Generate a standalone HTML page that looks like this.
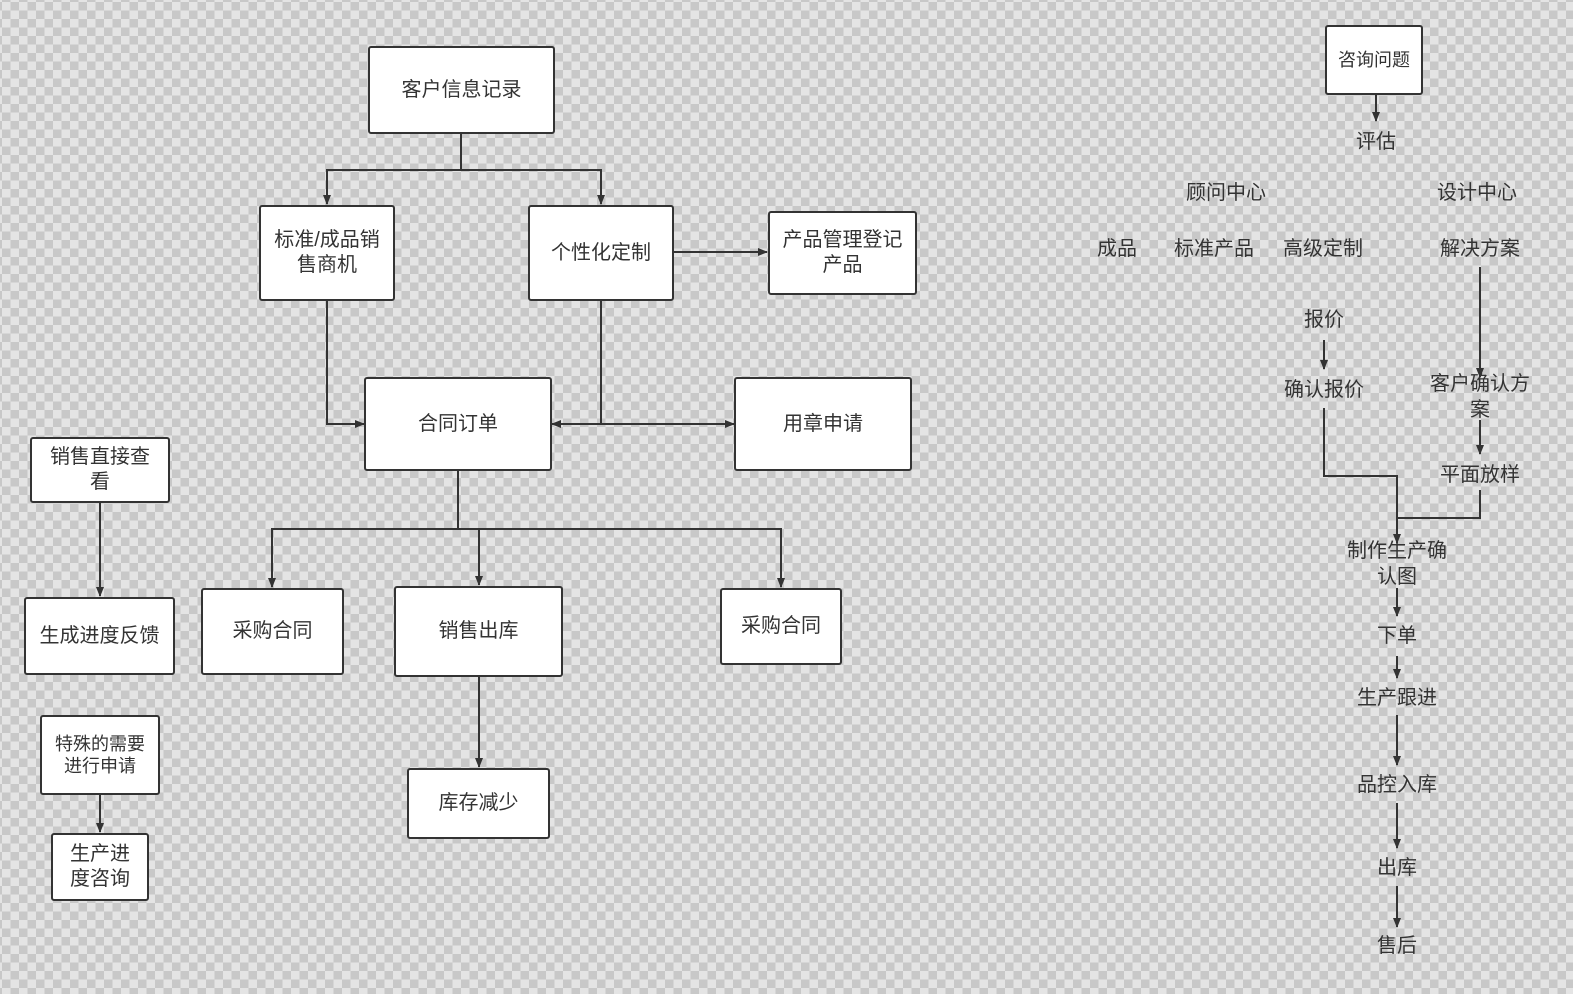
<!DOCTYPE html>
<html><head><meta charset="utf-8"><style>
body{margin:0;width:1573px;height:994px;overflow:hidden;position:relative;font-family:"Liberation Sans","Noto Sans CJK SC",sans-serif;color:#333;
background-color:#e4e4e4;background-image:linear-gradient(45deg,#c8c8c8 25%,transparent 25%,transparent 75%,#c8c8c8 75%),linear-gradient(45deg,#c8c8c8 25%,transparent 25%,transparent 75%,#c8c8c8 75%);background-size:17px 17px;background-position:2px 2px,10.5px 10.5px;}
.b{position:absolute;background:#fff;border:2px solid #333;border-radius:3px;box-sizing:border-box;display:flex;align-items:center;justify-content:center;text-align:center;font-size:20px;line-height:25px;}
.t{position:absolute;font-size:20px;line-height:26px;text-align:center;transform:translateX(-50%);white-space:nowrap;}
svg{position:absolute;left:0;top:0}
</style></head><body>
<svg width="1573" height="994"><defs><marker id="a" markerWidth="10" markerHeight="10" refX="9" refY="5" orient="auto" markerUnits="userSpaceOnUse"><path d="M0,1 L10,5 L0,9z" fill="#333"/></marker></defs>
<g stroke="#333" stroke-width="2" fill="none">
<path d="M461,133 V170 H327 V204" marker-end="url(#a)"/>
<path d="M461,170 H601 V204" marker-end="url(#a)"/>
<path d="M674,252 H767" marker-end="url(#a)"/>
<path d="M327,300 V424 H364" marker-end="url(#a)"/>
<path d="M601,300 V424 H552" marker-end="url(#a)"/>
<path d="M601,424 H734" marker-end="url(#a)"/>
<path d="M458,471 V529 H272 V587" marker-end="url(#a)"/>
<path d="M458,529 H479 V585" marker-end="url(#a)"/>
<path d="M479,529 H781 V587" marker-end="url(#a)"/>
<path d="M479,677 V767" marker-end="url(#a)"/>
<path d="M100,503 V596" marker-end="url(#a)"/>
<path d="M100,795 V832" marker-end="url(#a)"/>
<path d="M1376,94 V121" marker-end="url(#a)"/>
<path d="M1324,340 V369" marker-end="url(#a)"/>
<path d="M1480,267 V377" marker-end="url(#a)"/>
<path d="M1480,420 V454" marker-end="url(#a)"/>
<path d="M1324,408 V476 H1397 V543" marker-end="url(#a)"/>
<path d="M1480,490 V518 H1397"/>
<path d="M1397,588 V616" marker-end="url(#a)"/>
<path d="M1397,656 V678" marker-end="url(#a)"/>
<path d="M1397,715 V765" marker-end="url(#a)"/>
<path d="M1397,803 V848" marker-end="url(#a)"/>
<path d="M1397,886 V927" marker-end="url(#a)"/>
</g></svg>
<div class="b" style="left:368px;top:46px;width:187px;height:88px">客户信息记录</div>
<div class="b" style="left:259px;top:205px;width:136px;height:96px">标准/成品销<br>售商机</div>
<div class="b" style="left:528px;top:205px;width:146px;height:96px">个性化定制</div>
<div class="b" style="left:768px;top:211px;width:149px;height:84px">产品管理登记<br>产品</div>
<div class="b" style="left:364px;top:377px;width:188px;height:94px">合同订单</div>
<div class="b" style="left:734px;top:377px;width:178px;height:94px">用章申请</div>
<div class="b" style="left:30px;top:437px;width:140px;height:66px">销售直接查<br>看</div>
<div class="b" style="left:24px;top:597px;width:151px;height:78px">生成进度反馈</div>
<div class="b" style="left:201px;top:588px;width:143px;height:87px">采购合同</div>
<div class="b" style="left:394px;top:586px;width:169px;height:91px">销售出库</div>
<div class="b" style="left:720px;top:588px;width:122px;height:77px">采购合同</div>
<div class="b" style="left:407px;top:768px;width:143px;height:71px">库存减少</div>
<div class="b" style="left:40px;top:715px;width:120px;height:80px;font-size:18px;line-height:22px">特殊的需要<br>进行申请</div>
<div class="b" style="left:51px;top:833px;width:98px;height:68px">生产进<br>度咨询</div>
<div class="b" style="left:1325px;top:25px;width:98px;height:70px;font-size:18px">咨询问题</div>
<div class="t" style="left:1376px;top:129px">评估</div>
<div class="t" style="left:1226px;top:180px">顾问中心</div>
<div class="t" style="left:1477px;top:180px">设计中心</div>
<div class="t" style="left:1117px;top:236px">成品</div>
<div class="t" style="left:1214px;top:236px">标准产品</div>
<div class="t" style="left:1323px;top:236px">高级定制</div>
<div class="t" style="left:1480px;top:236px">解决方案</div>
<div class="t" style="left:1324px;top:307px">报价</div>
<div class="t" style="left:1324px;top:377px">确认报价</div>
<div class="t" style="left:1480px;top:371px">客户确认方<br>案</div>
<div class="t" style="left:1480px;top:462px">平面放样</div>
<div class="t" style="left:1397px;top:538px">制作生产确<br>认图</div>
<div class="t" style="left:1397px;top:623px">下单</div>
<div class="t" style="left:1397px;top:685px">生产跟进</div>
<div class="t" style="left:1397px;top:772px">品控入库</div>
<div class="t" style="left:1397px;top:855px">出库</div>
<div class="t" style="left:1397px;top:933px">售后</div>
</body></html>
